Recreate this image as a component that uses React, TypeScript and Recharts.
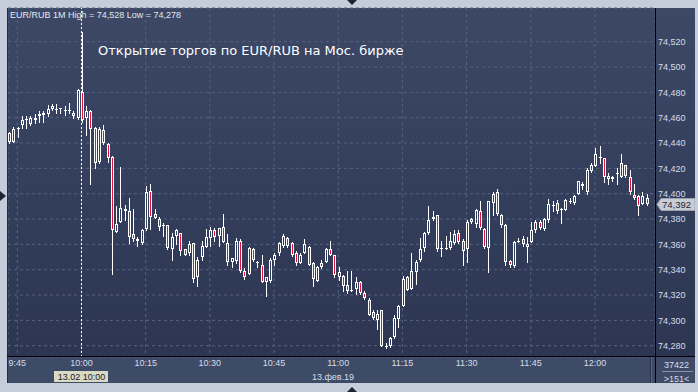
import {
  ComposedChart,
  Bar,
  XAxis,
  YAxis,
  CartesianGrid,
  ReferenceLine,
} from "recharts";

// ── Data (EUR/RUB, 1-minute candles, 13.02.2019) ──────────────────────────────

const START_TIME = "9:43";

const OPEN = [
  74.441, 74.441, 74.451, 74.454, 74.458, 74.455, 74.458, 74.461, 74.462, 74.463,
  74.467, 74.467, 74.468, 74.466, 74.465, 74.464, 74.460, 74.480, 74.460, 74.465,
  74.452, 74.425, 74.450, 74.439, 74.429, 74.370, 74.378, 74.388, 74.386, 74.368,
  74.364, 74.361, 74.372, 74.402, 74.384, 74.380, 74.375, 74.375, 74.356, 74.367,
  74.369, 74.356, 74.353, 74.361, 74.334, 74.350, 74.358, 74.365, 74.371, 74.367,
  74.374, 74.361, 74.346, 74.347, 74.363, 74.339, 74.337, 74.356, 74.346, 74.344,
  74.330, 74.331, 74.348, 74.353, 74.359, 74.365, 74.361, 74.353, 74.345, 74.353,
  74.358, 74.345, 74.331, 74.342, 74.346, 74.356, 74.352, 74.334, 74.335, 74.328,
  74.323, 74.325, 74.330, 74.322, 74.316, 74.307, 74.300, 74.308, 74.279, 74.280,
  74.287, 74.301, 74.311, 74.334, 74.325, 74.338, 74.348, 74.357, 74.369, 74.380,
  74.383, 74.357, 74.357, 74.357, 74.361, 74.369, 74.363, 74.356, 74.378, 74.376,
  74.386, 74.372, 74.357, 74.393, 74.401, 74.383, 74.375, 74.347, 74.343, 74.363,
  74.364, 74.358, 74.362, 74.371, 74.378, 74.372, 74.379, 74.390, 74.393, 74.387,
  74.387, 74.394, 74.393, 74.400, 74.408, 74.401, 74.418, 74.422, 74.429, 74.428,
  74.412, 74.413, 74.416, 74.413, 74.423, 74.413, 74.399, 74.398, 74.392, 74.397,
];

const HIGH = [
  74.449, 74.453, 74.453, 74.461, 74.461, 74.461, 74.463, 74.465, 74.465, 74.470,
  74.471, 74.471, 74.468, 74.469, 74.472, 74.465, 74.483, 74.528, 74.469, 74.466,
  74.453, 74.453, 74.454, 74.440, 74.430, 74.390, 74.421, 74.391, 74.397, 74.388,
  74.366, 74.372, 74.406, 74.408, 74.388, 74.382, 74.377, 74.375, 74.369, 74.372,
  74.369, 74.356, 74.363, 74.361, 74.350, 74.363, 74.372, 74.374, 74.373, 74.373,
  74.384, 74.368, 74.349, 74.365, 74.364, 74.341, 74.358, 74.357, 74.347, 74.352,
  74.334, 74.349, 74.353, 74.362, 74.368, 74.366, 74.362, 74.355, 74.353, 74.364,
  74.359, 74.346, 74.343, 74.348, 74.357, 74.363, 74.352, 74.342, 74.336, 74.339,
  74.339, 74.334, 74.331, 74.323, 74.318, 74.308, 74.308, 74.308, 74.282, 74.287,
  74.304, 74.312, 74.335, 74.335, 74.353, 74.348, 74.365, 74.370, 74.390, 74.386,
  74.383, 74.363, 74.367, 74.370, 74.371, 74.371, 74.364, 74.379, 74.381, 74.388,
  74.394, 74.373, 74.394, 74.401, 74.404, 74.384, 74.376, 74.348, 74.363, 74.365,
  74.367, 74.366, 74.378, 74.379, 74.379, 74.381, 74.396, 74.394, 74.395, 74.389,
  74.396, 74.397, 74.399, 74.410, 74.409, 74.420, 74.424, 74.436, 74.438, 74.428,
  74.416, 74.414, 74.420, 74.431, 74.423, 74.419, 74.408, 74.399, 74.401, 74.400,
];

const LOW = [
  74.440, 74.441, 74.445, 74.452, 74.452, 74.454, 74.456, 74.457, 74.457, 74.461,
  74.466, 74.464, 74.464, 74.462, 74.464, 74.460, 74.459, 74.457, 74.446, 74.408,
  74.420, 74.424, 74.439, 74.425, 74.337, 74.370, 74.378, 74.379, 74.361, 74.363,
  74.359, 74.360, 74.371, 74.372, 74.381, 74.371, 74.367, 74.356, 74.348, 74.360,
  74.352, 74.352, 74.352, 74.330, 74.327, 74.348, 74.358, 74.359, 74.363, 74.359,
  74.362, 74.344, 74.342, 74.345, 74.338, 74.333, 74.337, 74.347, 74.342, 74.330,
  74.319, 74.330, 74.344, 74.352, 74.358, 74.358, 74.351, 74.344, 74.345, 74.353,
  74.344, 74.327, 74.331, 74.341, 74.346, 74.352, 74.334, 74.332, 74.323, 74.322,
  74.323, 74.321, 74.321, 74.317, 74.304, 74.301, 74.293, 74.280, 74.278, 74.279,
  74.286, 74.295, 74.311, 74.324, 74.325, 74.329, 74.347, 74.355, 74.368, 74.379,
  74.355, 74.351, 74.356, 74.356, 74.360, 74.361, 74.344, 74.346, 74.377, 74.374,
  74.372, 74.357, 74.338, 74.383, 74.383, 74.374, 74.344, 74.342, 74.342, 74.362,
  74.359, 74.346, 74.362, 74.370, 74.372, 74.371, 74.378, 74.386, 74.385, 74.377,
  74.387, 74.393, 74.392, 74.400, 74.404, 74.400, 74.417, 74.422, 74.424, 74.409,
  74.408, 74.410, 74.408, 74.413, 74.413, 74.400, 74.396, 74.383, 74.392, 74.391,
];

const CLOSE = [
  74.448, 74.451, 74.452, 74.458, 74.459, 74.460, 74.460, 74.463, 74.464, 74.467,
  74.469, 74.466, 74.468, 74.466, 74.466, 74.461, 74.482, 74.458, 74.465, 74.451,
  74.424, 74.451, 74.440, 74.428, 74.371, 74.376, 74.389, 74.386, 74.366, 74.364,
  74.363, 74.371, 74.401, 74.382, 74.381, 74.374, 74.375, 74.357, 74.366, 74.371,
  74.355, 74.352, 74.360, 74.333, 74.348, 74.359, 74.366, 74.371, 74.366, 74.373,
  74.362, 74.346, 74.349, 74.363, 74.339, 74.334, 74.357, 74.348, 74.346, 74.330,
  74.334, 74.348, 74.352, 74.361, 74.367, 74.359, 74.352, 74.345, 74.352, 74.360,
  74.344, 74.333, 74.342, 74.345, 74.356, 74.352, 74.336, 74.338, 74.327, 74.323,
  74.324, 74.330, 74.322, 74.318, 74.304, 74.302, 74.305, 74.280, 74.280, 74.286,
  74.302, 74.311, 74.333, 74.324, 74.339, 74.346, 74.356, 74.369, 74.379, 74.382,
  74.356, 74.357, 74.357, 74.363, 74.368, 74.362, 74.355, 74.378, 74.380, 74.387,
  74.373, 74.358, 74.394, 74.400, 74.384, 74.375, 74.346, 74.344, 74.362, 74.363,
  74.360, 74.360, 74.371, 74.378, 74.373, 74.380, 74.392, 74.391, 74.386, 74.388,
  74.395, 74.394, 74.398, 74.410, 74.406, 74.419, 74.423, 74.431, 74.429, 74.413,
  74.414, 74.412, 74.416, 74.424, 74.414, 74.401, 74.397, 74.390, 74.398, 74.392,
];

const TIME_TICKS = ["9:45", "10:00", "10:15", "10:30", "10:45", "11:00", "11:15", "11:30", "11:45", "12:00"];
const PRICE_TICKS = [74.28, 74.3, 74.32, 74.34, 74.36, 74.38, 74.4, 74.42, 74.44, 74.46, 74.48, 74.5, 74.52];

const SYMBOL = "EUR/RUB";
const PERIOD = "1M";
const TITLE = "Открытие торгов по EUR/RUB на Мос. бирже";
const CURSOR_TIME = "10:00";
const CURSOR_DATE = "13.02";
const SESSION_DATE = "13.фев.19";
const VOLUME = "37422";
const BAR_COUNT = ">151<";

// ── Look ─────────────────────────────────────────────────────────────────────

const FONT = "'Liberation Sans', Arial, sans-serif";
const TITLE_FONT = "'DejaVu Sans', sans-serif";
const BORDER = "#c4cdd9";
const WHITE = "#ffffff";
const RED = "#dc143c";
const GRID = "#56627f";
const AXIS_TEXT = "#d6dde8";

const W = 698;
const H = 392;
const PLOT_BOTTOM = 357;
const PLOT_RIGHT = 655;
const X_DOMAIN: [number, number] = [582.83, 734.03];
const Y_DOMAIN: [number, number] = [74.2711, 74.5466];

// ── Helpers ──────────────────────────────────────────────────────────────────

const toMin = (s: string) => {
  const [h, m] = s.split(":").map(Number);
  return h * 60 + m;
};
const fmt = (v: number) => v.toFixed(3).replace(".", ",");
const fmtTime = (t: number) => `${Math.floor(t / 60)}:${String(t % 60).padStart(2, "0")}`;

const DATA = OPEN.map((o, i) => ({
  t: toMin(START_TIME) + i,
  open: o,
  high: HIGH[i],
  low: LOW[i],
  close: CLOSE[i],
  range: [LOW[i], HIGH[i]],
}));

const LAST = CLOSE[CLOSE.length - 1];
const DAY_HIGH = Math.max(...HIGH);
const DAY_LOW = Math.min(...LOW);

// ── Candle shape ─────────────────────────────────────────────────────────────

function Candle(props: any) {
  const { x, y, width, height, payload } = props;
  if (x == null || y == null || !payload) return null;
  const { open, close, high, low } = payload;
  const k = high > low ? height / (high - low) : 0;
  const py = (v: number) => Math.round(y + (high - v) * k);
  const cx = Math.round(x + width / 2);
  const wx = cx + 0.5;
  const yh = py(high);
  const yl = py(low);
  const top = py(Math.max(open, close));
  const bot = py(Math.min(open, close));
  const up = close >= open;
  return (
    <g>
      {top > yh && <line x1={wx} x2={wx} y1={yh} y2={top} stroke={WHITE} />}
      {yl >= bot && <line x1={wx} x2={wx} y1={bot} y2={yl + 1} stroke={WHITE} />}
      {bot - top >= 2 ? (
        <rect
          x={cx - 0.5}
          y={top + 0.5}
          width={2}
          height={bot - top - 1}
          fill={up ? "none" : RED}
          stroke={WHITE}
        />
      ) : (
        <line x1={cx - 1} x2={cx + 2} y1={top + 0.5} y2={top + 0.5} stroke={WHITE} />
      )}
    </g>
  );
}

// ── Cursor and price tags ────────────────────────────────────────────────────

function CursorTag({ viewBox }: any) {
  if (!viewBox) return null;
  const cx = Math.round(viewBox.x);
  return (
    <g>
      <rect x={cx - 27} y={PLOT_BOTTOM + 14} width={54} height={11} fill="#d9dac4" />
      <text x={cx + 0.5} y={PLOT_BOTTOM + 23} textAnchor="middle" fontSize={9} fontFamily={FONT} fill="#1c2030">
        {CURSOR_DATE} {CURSOR_TIME}
      </text>
    </g>
  );
}

function PriceTag({ viewBox }: any) {
  if (!viewBox) return null;
  const yy = Math.round(viewBox.y) + 0.5;
  const x0 = viewBox.x + viewBox.width;
  const pts = `${x0 + 2},${yy} ${x0 + 6},${yy - 6} ${x0 + 40},${yy - 6} ${x0 + 40},${yy + 6} ${x0 + 6},${yy + 6}`;
  return (
    <g>
      <polygon points={pts} fill="#c9cdd3" stroke="#9aa2b2" />
      <text x={x0 + 7} y={yy + 3.5} fontSize={9.5} fontFamily={FONT} fill="#20273a">
        {fmt(LAST)}
      </text>
    </g>
  );
}

// ── Component ────────────────────────────────────────────────────────────────

export default function App() {
  const timeTicks = TIME_TICKS.map(toMin);
  return (
    <div style={{ position: "absolute", left: 0, top: 0, width: W, height: H, background: BORDER, overflow: "hidden" }}>
      {/* Panel background */}
      <div
        style={{
          position: "absolute",
          left: 7,
          top: 8,
          width: 688,
          height: PLOT_BOTTOM - 8,
          background: "linear-gradient(#3c4866, #2c3653)",
        }}
      />
      <div style={{ position: "absolute", left: 7, top: PLOT_BOTTOM, width: 688, height: 26, background: "#3e4b67" }} />

      <div style={{ position: "absolute", left: 0, top: 0 }}>
        <ComposedChart width={W} height={H} data={DATA} margin={{ top: 8, left: 8, right: 0, bottom: 9 }}>
          <CartesianGrid stroke={GRID} strokeDasharray="3 3" />
          <XAxis
            type="number"
            dataKey="t"
            domain={X_DOMAIN}
            allowDataOverflow
            ticks={timeTicks}
            tickFormatter={fmtTime}
            height={26}
            axisLine={false}
            tickLine={false}
            tickSize={0}
            tickMargin={3}
            interval={0}
            tick={{ fill: AXIS_TEXT, fontSize: 9, fontFamily: FONT }}
          />
          <YAxis
            orientation="right"
            type="number"
            domain={Y_DOMAIN}
            allowDataOverflow
            ticks={PRICE_TICKS}
            tickFormatter={fmt}
            width={43}
            axisLine={false}
            tickLine={false}
            tickSize={0}
            tickMargin={3}
            interval={0}
            tick={{ fill: AXIS_TEXT, fontSize: 9, fontFamily: FONT, textAnchor: "start" }}
          />
          <Bar dataKey="range" barSize={3} shape={<Candle />} isAnimationActive={false} />
          <ReferenceLine
            x={toMin(CURSOR_TIME)}
            stroke={WHITE}
            strokeDasharray="2 2"
            label={<CursorTag />}
          />
          <ReferenceLine y={LAST} stroke="none" label={<PriceTag />} />
        </ComposedChart>
      </div>

      {/* Frame, texts and markers */}
      <svg width={W} height={H} style={{ position: "absolute", left: 0, top: 0, pointerEvents: "none" }}>
        <rect x={0} y={0} width={7} height={H} fill={BORDER} />
        <rect x={0} y={383} width={W} height={9} fill={BORDER} />
        <rect x={695} y={0} width={3} height={H} fill={BORDER} />
        <line x1={7.5} x2={7.5} y1={8} y2={383} stroke="#262d40" />
        <line x1={7} x2={695} y1={PLOT_BOTTOM - 0.5} y2={PLOT_BOTTOM - 0.5} stroke="#000" />
        <line x1={PLOT_RIGHT + 0.5} x2={PLOT_RIGHT + 0.5} y1={8} y2={383} stroke="#000" />
        <line x1={650.5} x2={650.5} y1={PLOT_BOTTOM} y2={383} stroke="#29324a" />
        <line x1={651.5} x2={651.5} y1={PLOT_BOTTOM} y2={383} stroke="#5a6680" />

        <polygon points="347,0 357,0 352,5" fill="#1d2335" />
        <polygon points="347,392 357,392 352,387" fill="#1d2335" />
        <polygon points="0,191 0,201 6,196" fill="#1d2335" />

        <text x={10} y={17.5} fontSize={9} fontFamily={FONT} fill="#e4e8ee">
          {`${SYMBOL} ${PERIOD} High = ${fmt(DAY_HIGH)} Low = ${fmt(DAY_LOW)}`}
        </text>
        <text x={98} y={55} fontSize={13} fontFamily={TITLE_FONT} fill={WHITE}>
          {TITLE}
        </text>
        <text x={333} y={380} textAnchor="middle" fontSize={9} fontFamily={FONT} fill={AXIS_TEXT}>
          {SESSION_DATE}
        </text>
        <text x={676.5} y={368} textAnchor="middle" fontSize={9} fontFamily={FONT} fill={AXIS_TEXT}>
          {VOLUME}
        </text>
        <line x1={662} x2={693} y1={371.5} y2={371.5} stroke="#8b94a8" />
        <text x={676.5} y={382} textAnchor="middle" fontSize={9} fontFamily={FONT} fill={AXIS_TEXT}>
          {BAR_COUNT}
        </text>
      </svg>
    </div>
  );
}
